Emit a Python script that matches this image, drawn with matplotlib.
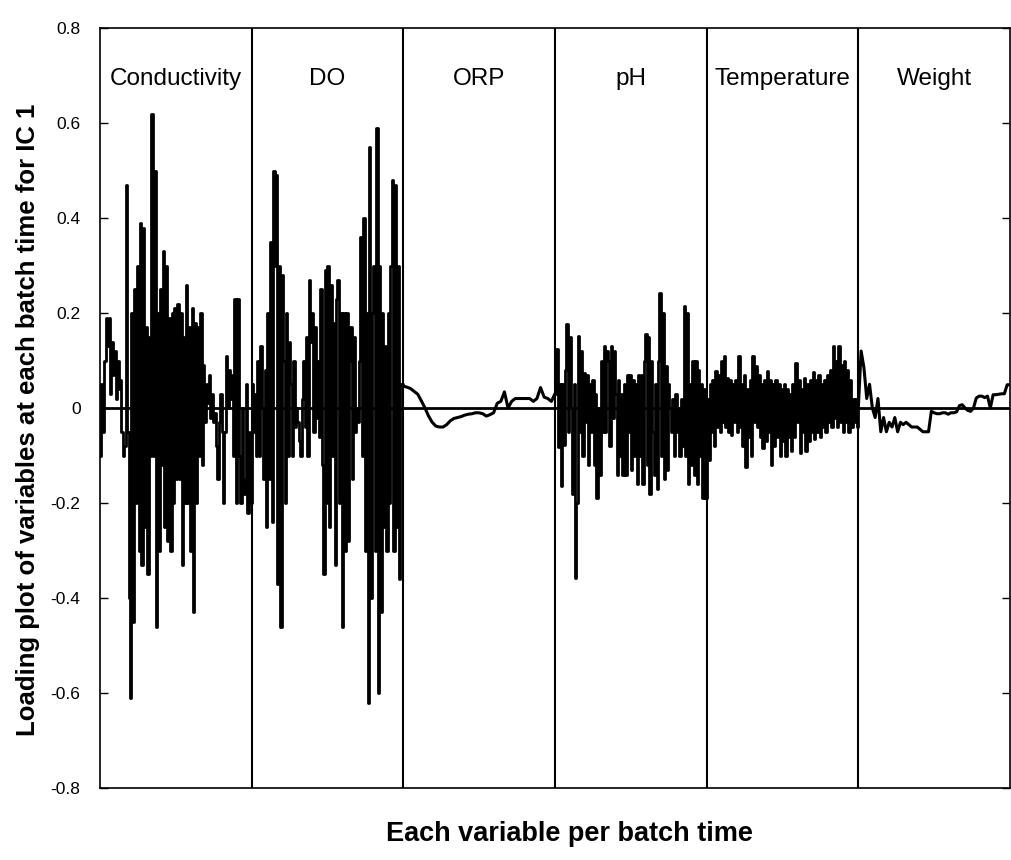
import numpy as np
import matplotlib.pyplot as plt

plt.rcParams['font.family'] = ['Liberation Sans', 'DejaVu Sans']

# variable blocks along the x axis
variables = ['Conductivity', 'DO', 'ORP', 'pH', 'Temperature', 'Weight']

# IC 1 loadings, one list per variable (batch time order)
conductivity = [
    -0.1, 0.05, -0.05, 0.1, 0.19, 0.13, 0.19,
    0.03, 0.14, 0.07, 0.12, 0.02, 0.1, 0.04,
    0.06, -0.05, -0.1, -0.08, 0.47, -0.05, -0.4,
    -0.61, 0.2, -0.45, 0.25, -0.2, 0.3, -0.3,
    0.39, -0.33, 0.38, -0.25, 0.17, -0.35, 0.15,
    -0.1, 0.62, -0.1, 0.5, -0.46, 0.2, -0.3,
    0.25, -0.12, 0.33, -0.25, 0.3, -0.28, 0.19,
    -0.3, 0.2, -0.2, 0.21, -0.15, 0.22, -0.15,
    0.2, -0.33, 0.15, -0.2, 0.26, -0.2, 0.17,
    -0.3, 0.21, -0.43, 0.18, -0.2, 0.17, -0.1,
    0.2, -0.12, 0.09, -0.03, 0.05, 0.01, 0.07,
    -0.02, 0.03, -0.03, -0.01, -0.08, -0.15, -0.03,
    0.03, -0.05, -0.2, -0.05, 0.11, 0.0, 0.08,
    0.02, 0.07, -0.1, 0.23, -0.2, 0.23, -0.1,
    -0.2, 0.0, -0.15, -0.18, 0.05, -0.22, -0.05, -0.2,
]
do = [
    0.05, -0.05, 0.03, -0.1, 0.1, -0.1, 0.13,
    0.0, -0.15, 0.08, -0.25, 0.2, -0.15, 0.35,
    -0.24, 0.5, 0.3, 0.49, -0.37, 0.3, -0.46,
    0.28, 0.1, -0.2, 0.2, -0.1, 0.14, 0.05,
    -0.1, 0.1, -0.04, 0.0, -0.03, -0.07, -0.1,
    0.02, 0.1, -0.04, 0.15, -0.1, 0.27, 0.14,
    0.2, -0.05, 0.17, -0.02, 0.1, -0.06, 0.25,
    -0.12, -0.35, 0.29, -0.2, 0.3, -0.25, 0.26,
    -0.1, 0.18, -0.33, 0.23, 0.27, -0.2, 0.2,
    -0.46, 0.2, -0.3, 0.2, -0.28, 0.1, 0.17,
    -0.15, 0.15, -0.05, 0.0, -0.03, 0.1, 0.36,
    -0.1, 0.4, -0.3, 0.2, -0.62, 0.55, -0.4,
    0.2, 0.3, -0.3, 0.59, -0.6, 0.3, -0.43,
    0.2, -0.25, 0.13, -0.3, 0.2, -0.2, 0.3,
    0.48, -0.3, 0.47, -0.25, 0.3, -0.36, 0.05, 0.05,
]
orp = [
    0.046, 0.044, 0.041, 0.035, 0.029, 0.015, 0.0, -0.017, -0.03, -0.038,
    -0.04, -0.04, -0.035, -0.027, -0.022, -0.02, -0.018, -0.015, -0.013, -0.012,
    -0.01, -0.01, -0.012, -0.017, -0.014, -0.01, 0.01, 0.014, 0.034, 0.0,
    0.014, 0.02, 0.02, 0.02, 0.02, 0.02, 0.014, 0.02, 0.043, 0.023,
    0.02, 0.014,
]
ph = [
    0.03, 0.124, -0.083, 0.05, -0.164, 0.05, -0.077,
    0.08, 0.176, -0.05, 0.15, 0.0, -0.18, 0.05,
    -0.357, -0.2, 0.152, -0.05, 0.12, -0.1, 0.074,
    -0.03, 0.07, -0.12, 0.05, -0.05, 0.06, -0.12,
    0.03, -0.19, 0.0, -0.14, 0.1, -0.05, 0.13,
    -0.05, 0.12, 0.1, -0.08, 0.13, -0.02, 0.12,
    0.03, -0.14, 0.06, -0.1, 0.03, -0.14, 0.05,
    -0.14, 0.07, -0.05, 0.07, -0.13, 0.06, -0.1,
    0.05, -0.16, 0.07, -0.1, 0.07, -0.16, 0.1,
    0.155, -0.12, 0.15, -0.18, 0.1, -0.05, -0.14,
    0.05, -0.17, 0.1, 0.243, -0.1, 0.2, -0.15,
    0.089, -0.13, 0.05, 0.0, -0.05, 0.02, -0.1,
    0.03, -0.05, 0.0, -0.1, 0.02, -0.08, 0.215,
    -0.1, 0.2, -0.16, 0.05, -0.12, 0.1, -0.14,
    0.1, -0.16, 0.08, -0.1, 0.05, -0.19, 0.04, -0.19,
]
temperature = [
    0.02, -0.11, 0.05, -0.05, 0.06, -0.08, 0.078,
    -0.04, 0.07, -0.05, 0.1, -0.03, 0.109, -0.04,
    0.064, -0.05, 0.06, -0.056, 0.05, -0.03, 0.06,
    -0.05, 0.109, -0.04, 0.05, -0.08, 0.07, -0.125,
    0.04, -0.06, 0.06, -0.1, 0.109, -0.03, 0.088,
    -0.04, 0.07, -0.06, 0.05, -0.084, 0.06, -0.07,
    0.078, -0.05, 0.06, -0.12, 0.05, -0.08, 0.06,
    -0.06, 0.05, -0.1, 0.04, -0.07, 0.05, -0.1,
    0.04, -0.06, 0.03, -0.09, 0.05, -0.06, 0.095,
    -0.03, 0.06, -0.095, 0.04, -0.05, 0.064, -0.09,
    0.05, -0.07, 0.06, -0.05, 0.075, -0.066, 0.06,
    -0.05, 0.07, -0.06, 0.05, -0.04, 0.06, -0.05,
    0.07, -0.03, 0.08, -0.04, 0.13, -0.02, 0.1,
    -0.04, 0.13, -0.03, 0.09, -0.05, 0.1, -0.03,
    0.08, -0.05, 0.06, -0.04, 0.02, -0.03, 0.02, -0.04,
]
weight = [
    0.0, 0.12, 0.085, 0.02, 0.05, 0.0, -0.02, 0.02, -0.05, -0.02,
    -0.05, -0.03, -0.04, -0.02, -0.05, -0.03, -0.035, -0.03, -0.035, -0.04,
    -0.04, -0.04, -0.045, -0.05, -0.05, -0.05, -0.007, -0.01, -0.012, -0.012,
    -0.01, -0.01, -0.013, -0.01, -0.01, -0.008, 0.005, 0.007, 0.0, -0.005,
    -0.007, 0.0, 0.021, 0.025, 0.025, 0.022, 0.025, 0.0, 0.028, 0.028,
    0.029, 0.03, 0.03, 0.049,
]

y_ticks = [-0.8, -0.6, -0.4, -0.2, 0, 0.2, 0.4, 0.6, 0.8]
y_tick_labels = ['-0.8', '-0.6', '-0.4', '-0.2', '0', '0.2', '0.4', '0.6', '0.8']

series = [conductivity, do, orp, ph, temperature, weight]
# the noisy blocks look like bars in the original, the slow ones are smooth
noisy = [True, True, False, True, True, False]

fig = plt.figure(figsize=(10.12, 8.6), dpi=100)
ax = fig.add_axes([0.0988, 0.0837, 0.8992, 0.8837])

# each variable gets one unit of x, its batch times spread across it
for k, vals in enumerate(series):
    n = len(vals)
    x = k + np.arange(n + 1) / n
    y = np.append(vals, vals[-1] if k == len(series) - 1 else series[k + 1][0])
    if noisy[k]:
        ax.plot(x, y, color='black', lw=2.0, drawstyle='steps-post')
    else:
        ax.plot(x, y, color='black', lw=2.2)

ax.axhline(0, color='black', lw=2)
for k in range(1, len(variables)):
    ax.axvline(k, color='black', lw=1.5)
for k, name in enumerate(variables):
    ax.text(k + 0.5, 0.693, name, ha='center', va='center', fontsize=17.5)

ax.set_xlim(0, len(variables))
ax.set_ylim(-0.8, 0.8)
ax.set_xticks([])
ax.set_yticks(y_ticks)
ax.set_yticklabels(y_tick_labels, fontsize=12.5)
ax.tick_params(axis='y', direction='in', length=6, width=1, right=True, pad=14)
for s in ax.spines.values():
    s.set_linewidth(1.2)

ax.set_ylabel('Loading plot of variables at each batch time for IC 1',
              fontsize=18.5, fontweight='bold')
ax.yaxis.set_label_coords(-0.066, 0.484)
ax.set_xlabel('Each variable per batch time', fontsize=19.5, fontweight='bold')
ax.xaxis.set_label_coords(0.516, -0.043)

plt.savefig('out.png', dpi=100)
